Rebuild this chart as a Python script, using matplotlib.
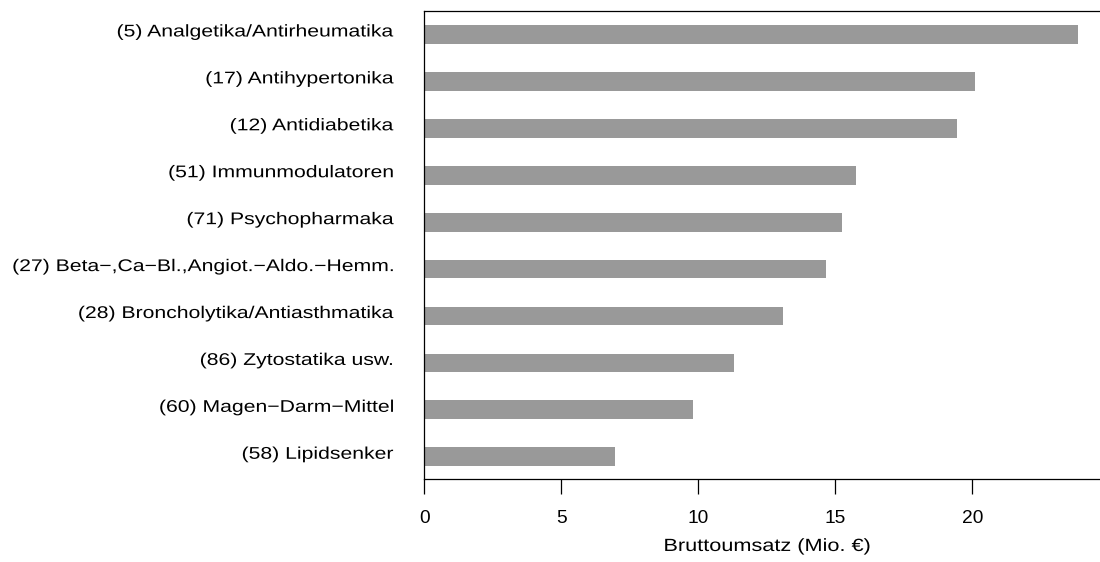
import numpy as np
import matplotlib.pyplot as plt
import matplotlib.transforms as mtransforms
from matplotlib import patheffects

plt.rcParams['font.family'] = ['Liberation Sans', 'DejaVu Sans']

# Data (top to bottom as shown)
categories = ['(5) Analgetika/Antirheumatika',
              '(17) Antihypertonika',
              '(12) Antidiabetika',
              '(51) Immunmodulatoren',
              '(71) Psychopharmaka',
              '(27) Beta\u2212,Ca\u2212Bl.,Angiot.\u2212Aldo.\u2212Hemm.',
              '(28) Broncholytika/Antiasthmatika',
              '(86) Zytostatika usw.',
              '(60) Magen\u2212Darm\u2212Mittel',
              '(58) Lipidsenker']
umsatz = [23.86, 20.1, 19.45, 15.77, 15.23, 14.68, 13.11, 11.29, 9.8, 6.96]
xticks = [0, 5, 10, 15, 20]


# the reference text is set a bit wider than Arial, so widen the glyphs
class StretchX(patheffects.AbstractPathEffect):
    def __init__(self, sx, anchor=1.0):
        super().__init__()
        self.sx = sx
        self.anchor = anchor  # 0 = left, 0.5 = centre, 1 = right

    def draw_path(self, renderer, gc, tpath, affine, rgbFace=None):
        ext = tpath.get_extents()
        x0 = ext.x0 + self.anchor * ext.width
        t = (mtransforms.Affine2D().translate(-x0, 0).scale(self.sx, 1)
             .translate(x0, 0) + affine)
        renderer.draw_path(gc, tpath, t, rgbFace)


fig = plt.figure(figsize=(11, 5.62), dpi=100)
# plot region runs a little past the right edge of the picture
ax = fig.add_axes([424.3 / 1100, 82.7 / 562, 686 / 1100, 468.3 / 562])

# bottom bar at 0, top bar at 9
pos = np.arange(len(categories))[::-1]
ax.barh(pos, umsatz, height=0.4, color='#999999', edgecolor='none')

ax.set_xlim(0, 25.04)
ax.set_ylim(-0.48, 9.5)

for s in ax.spines.values():
    s.set_linewidth(0.9)
    s.set_color('black')

ax.set_xticks(xticks)
ax.set_xticklabels([str(t) for t in xticks], fontsize=13.8)
ax.tick_params(axis='x', length=11, width=0.9, pad=11)
xl = ax.set_xlabel('Bruttoumsatz (Mio. \u20ac)', fontsize=12.7, labelpad=8)
xl.set_path_effects([StretchX(1.23, 0.5)])

ax.set_yticks(pos)
ax.set_yticklabels(categories, fontsize=12.2)
ax.tick_params(axis='y', length=0, pad=22)
# labels sit slightly above bar centre
shift = mtransforms.ScaledTranslation(0, 4 / 100, fig.dpi_scale_trans)
for lab in ax.get_yticklabels():
    lab.set_transform(lab.get_transform() + shift)
    lab.set_path_effects([StretchX(1.25, 1.0)])

fig.savefig('out.png', dpi=100)
